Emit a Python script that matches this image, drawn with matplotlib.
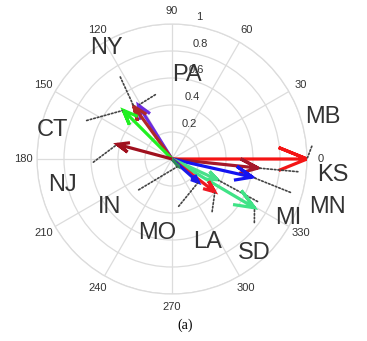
import numpy as np
import matplotlib
matplotlib.use('Agg')
import matplotlib.pyplot as plt

plt.rcParams['font.family'] = ['Liberation Sans', 'DejaVu Sans']

# one arrow per site: direction (deg) and length
states = ['MB', 'KS', 'MN', 'MI', 'SD', 'LA', 'MO', 'IN', 'PA', 'NY', 'CT', 'NJ']
angle_deg = [0, -6, -12.7, -24.5, -30.6, -37.5, -41.5, -50, 122, 126, 135, 165]
magnitude = [1.0, 0.64, 0.61, 0.37, 0.71, 0.40, 0.26, 0.07, 0.47, 0.48, 0.51, 0.42]
arrow_colors = ['#f41414', '#a5182a', '#1414f0', '#48e08a', '#3fe386', '#ee1822',
                '#1a1ae8', '#2e8b57', '#6c2ce0', '#b02828', '#22f022', '#a0101e']

theta_ticks = list(range(0, 360, 30))
r_ticks = [0.2, 0.4, 0.6, 0.8, 1.0]
r_tick_labels = ['0.2', '0.4', '0.6', '0.8', '1']

# where each site name sits (axes fraction)
label_pos = [(1.059, 0.656), (1.096, 0.441), (1.074, 0.322), (0.930, 0.281),
             (0.804, 0.152), (0.633, 0.193), (0.444, 0.226), (0.270, 0.322),
             (0.556, 0.811), (0.259, 0.911), (0.056, 0.607), (0.096, 0.404)]

grid_col = '#dcdcdc'
text_col = '#333333'


def compass_arrow(ax, ang, mag, color):
    # same arrow shape as matlab compass(): shaft plus two barbs
    z = mag * np.exp(1j * np.radians(ang))
    shape = np.array([0, 1, 0.79 + 0.085j, 1, 0.79 - 0.085j])
    pts = shape * z
    ax.plot(np.angle(pts), np.abs(pts), color=color, lw=2.3,
            solid_joinstyle='miter', solid_capstyle='butt', zorder=3)
    return np.angle(z), np.abs(z)


fig = plt.figure(figsize=(3.67, 3.41), dpi=100)
ax = fig.add_axes([37/367, 47/341, 270/367, 270/341], projection='polar')

ax.set_rlim(0, 1)
ax.set_rticks(r_ticks)
ax.set_yticklabels([])
ax.set_thetagrids(theta_ticks, labels=[''] * len(theta_ticks))
ax.grid(True, color=grid_col, lw=0.9)
ax.spines['polar'].set_color(grid_col)
ax.spines['polar'].set_linewidth(0.9)
ax.set_axisbelow(True)

# angle labels just outside the rim
for t in theta_ticks:
    ax.text(np.radians(t), 1.1, str(t), ha='center', va='center',
            fontsize=8, color=text_col, clip_on=False)

# radius labels up near 82 deg
for r, lab in zip(r_ticks, r_tick_labels):
    ax.annotate(lab, xy=(np.radians(82), r), xytext=(4, 6),
                textcoords='offset points', ha='left', va='center',
                fontsize=8, color=text_col)

for i in range(len(states)):
    th, rr = compass_arrow(ax, angle_deg[i], magnitude[i], arrow_colors[i])
    ax.annotate(states[i], xy=(th, rr), xytext=label_pos[i],
                textcoords='axes fraction', ha='center', va='center',
                fontsize=17, color=text_col, annotation_clip=False,
                arrowprops=dict(arrowstyle='-', color='#444444', lw=1.2,
                                linestyle=(0, (1, 1.2)), shrinkA=12, shrinkB=1))

fig.text(185/367, 1 - 325/341, '(a)', family='Liberation Serif',
         fontsize=10, ha='center', va='center')

fig.savefig('out.png', dpi=100)
